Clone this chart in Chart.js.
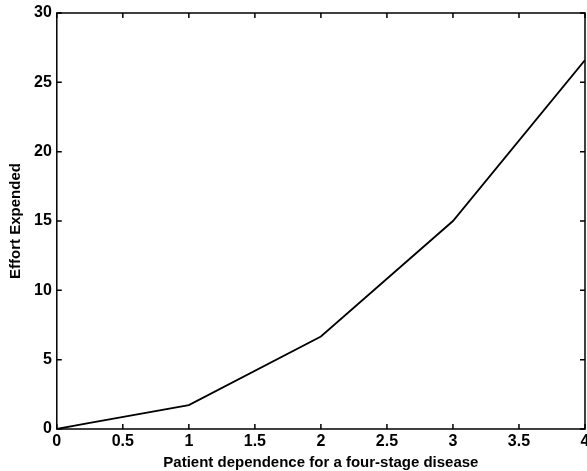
<!DOCTYPE html>
<html>
<head>
<meta charset="utf-8">
<script src="https://cdn.jsdelivr.net/npm/chart.js@4"></script>
<style>
  html, body { margin: 0; padding: 0; background: #fff; }
  #wrap { width: 587px; height: 471px; }
</style>
</head>
<body>
<div id="wrap"><canvas id="effortChart"></canvas></div>
<script>
// values
const dependence = [0, 0.25, 1, 2, 3, 4];
const effort = [0, 0.45, 1.72, 6.67, 15.0, 26.6];

const xTitle = 'Patient dependence for a four-stage disease';
const yTitle = 'Effort Expended';

const FAMILY = '"Liberation Sans", Arial, Helvetica, sans-serif';
const TITLE_FONT = { family: FAMILY, size: 15, weight: 'bold', lineHeight: 1 };
const TICK_FONT = { family: FAMILY, size: 16, weight: 'bold', lineHeight: 1 };

// matlab style box with inward ticks on all four sides
const boxTicks = {
    id: 'boxTicks',
    afterDatasetsDraw(chart) {
        const { ctx, chartArea: a, scales } = chart;
        const len = 5;
        ctx.save();
        ctx.strokeStyle = '#000';
        ctx.lineWidth = 1.5;
        ctx.strokeRect(a.left, a.top, a.right - a.left, a.bottom - a.top);
        ctx.beginPath();
        scales.x.ticks.forEach(t => {
            const px = scales.x.getPixelForValue(t.value);
            ctx.moveTo(px, a.bottom); ctx.lineTo(px, a.bottom - len);
            ctx.moveTo(px, a.top); ctx.lineTo(px, a.top + len);
        });
        scales.y.ticks.forEach(t => {
            const py = scales.y.getPixelForValue(t.value);
            ctx.moveTo(a.left, py); ctx.lineTo(a.left + len, py);
            ctx.moveTo(a.right, py); ctx.lineTo(a.right - len, py);
        });
        ctx.stroke();
        ctx.restore();
    }
};

const chart = new Chart(document.getElementById('effortChart'), {
    type: 'line',
    data: {
        datasets: [{
            data: dependence.map((d, i) => ({ x: d, y: effort[i] })),
            borderColor: '#000',
            borderWidth: 1.8,
            pointRadius: 0,
            tension: 0,
            fill: false
        }]
    },
    options: {
        responsive: true,
        maintainAspectRatio: false,
        animation: false,
        layout: { padding: { top: 7, right: 2, left: 8, bottom: 1 } },
        plugins: {
            legend: { display: false },
            tooltip: { enabled: false }
        },
        scales: {
            x: {
                type: 'linear',
                min: 0,
                max: 4,
                grid: { display: false, drawTicks: false },
                border: { display: false },
                ticks: {
                    stepSize: 0.5,
                    color: '#000',
                    font: TICK_FONT,
                    padding: 5,
                    maxRotation: 0,
                    callback: v => String(v)
                },
                title: { display: true, text: xTitle, color: '#000', font: TITLE_FONT, padding: { top: 0, bottom: 0 } },
                afterFit(scale) { scale.paddingLeft = 0; scale.paddingRight = 0; }
            },
            y: {
                min: 0,
                max: 30,
                grid: { display: false, drawTicks: false },
                border: { display: false },
                ticks: {
                    stepSize: 5,
                    color: '#000',
                    font: TICK_FONT,
                    padding: 5
                },
                title: { display: true, text: yTitle, color: '#000', font: TITLE_FONT, padding: { top: 0, bottom: 6 } }
            }
        }
    },
    plugins: [boxTicks]
});
</script>
</body>
</html>
